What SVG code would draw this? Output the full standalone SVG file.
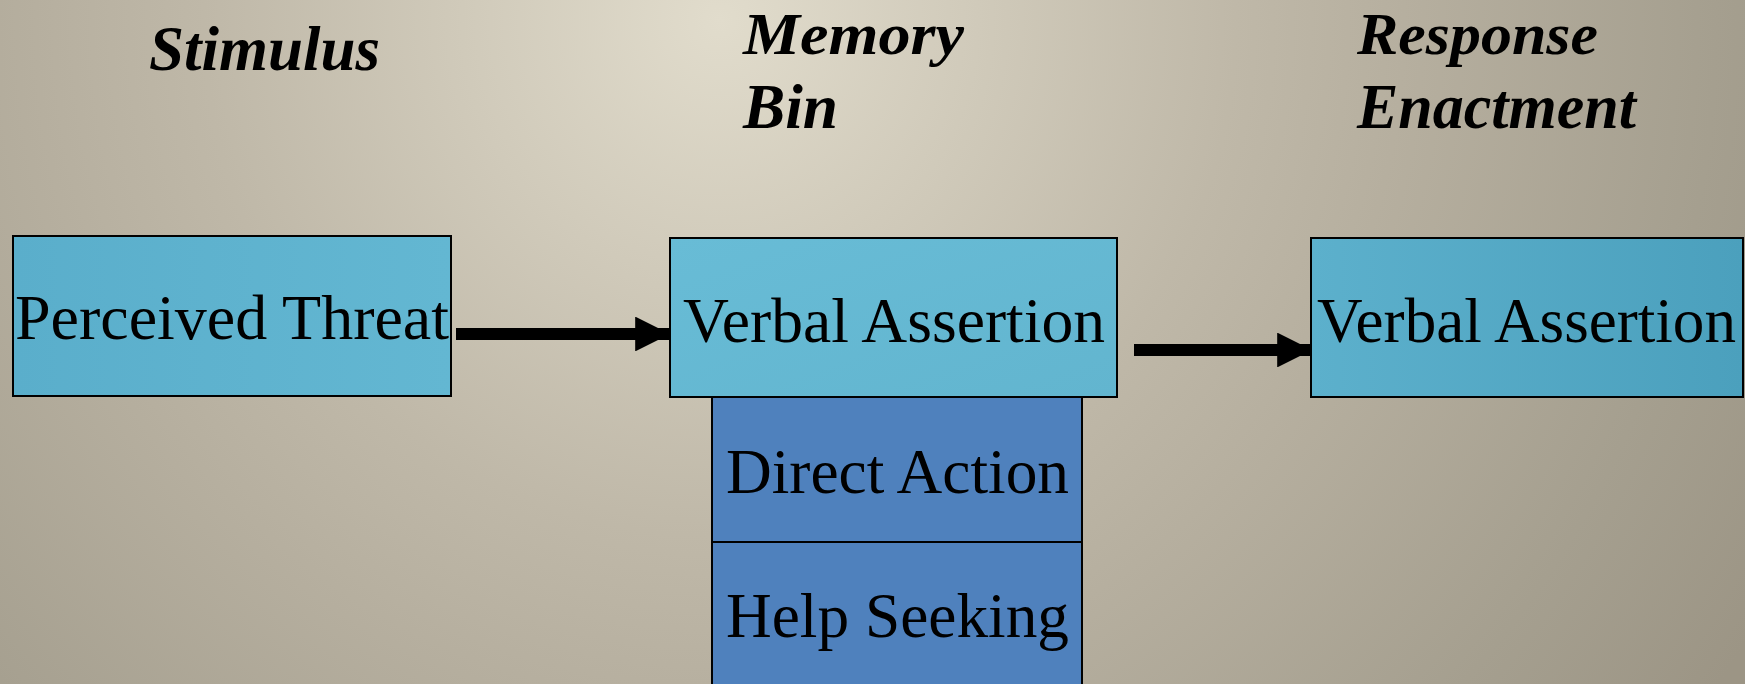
<svg xmlns="http://www.w3.org/2000/svg" width="1745" height="684" viewBox="0 0 1745 684">
<defs>
<radialGradient id="bg" gradientUnits="userSpaceOnUse" cx="720" cy="20" r="1200">
<stop offset="0" stop-color="#e1dccc"/>
<stop offset="0.43" stop-color="#bfb8a8"/>
<stop offset="0.57" stop-color="#b6af9f"/>
<stop offset="0.83" stop-color="#a59f8f"/>
<stop offset="1" stop-color="#9c9585"/>
</radialGradient>
<linearGradient id="g1" x1="0" y1="0" x2="1" y2="0">
<stop offset="0" stop-color="#5aaecb"/>
<stop offset="1" stop-color="#63b7d2"/>
</linearGradient>
<linearGradient id="g2" x1="0" y1="0" x2="1" y2="1">
<stop offset="0" stop-color="#68bcd6"/>
<stop offset="1" stop-color="#62b5cf"/>
</linearGradient>
<linearGradient id="g3" x1="0" y1="0" x2="1" y2="0">
<stop offset="0" stop-color="#5cb0cc"/>
<stop offset="1" stop-color="#4ba0bd"/>
</linearGradient>
<marker id="ah" viewBox="0 0 10 10" refX="10" refY="5" markerWidth="2.9" markerHeight="2.9" orient="auto" markerUnits="strokeWidth">
<path d="M0,0 L10,5 L0,10 Z" fill="#000"/>
</marker>
</defs>
<style>
.box{stroke:#000;stroke-width:2}
.lbl{font-family:"Liberation Serif","Times New Roman",serif;font-size:63px;fill:#000}
.hdr{font-family:"Liberation Serif","Times New Roman",serif;font-size:64px;font-weight:bold;font-style:italic;fill:#000}
.hdr2{font-size:59px}
.conn{stroke:#000;stroke-width:12;fill:none}
</style>
<rect x="0" y="0" width="1745" height="684" fill="url(#bg)"/>
<g id="headers">
<text class="hdr" x="149" y="70" textLength="231" lengthAdjust="spacingAndGlyphs">Stimulus</text>
<text class="hdr hdr2" x="743" y="54" textLength="221" lengthAdjust="spacingAndGlyphs">Memory</text>
<text class="hdr" x="743" y="128" textLength="95" lengthAdjust="spacingAndGlyphs">Bin</text>
<text class="hdr hdr2" x="1357" y="54" textLength="241" lengthAdjust="spacingAndGlyphs">Response</text>
<text class="hdr" x="1357" y="128" textLength="279" lengthAdjust="spacingAndGlyphs">Enactment</text>
</g>
<g id="node-perceived-threat">
<rect class="box" x="13" y="236" width="438" height="160" fill="url(#g1)"/>
<text class="lbl" x="15" y="339" textLength="434" lengthAdjust="spacingAndGlyphs">Perceived Threat</text>
</g>
<g id="node-direct-action">
<rect class="box" x="712" y="397" width="370" height="145" fill="#4f81bd"/>
<text class="lbl" x="726" y="493" textLength="343" lengthAdjust="spacingAndGlyphs">Direct Action</text>
</g>
<g id="node-help-seeking">
<rect class="box" x="712" y="542" width="370" height="150" fill="#4f81bd"/>
<text class="lbl" x="726" y="637" textLength="343" lengthAdjust="spacingAndGlyphs">Help Seeking</text>
</g>
<g id="node-memory-verbal-assertion">
<rect class="box" x="670" y="238" width="447" height="159" fill="url(#g2)"/>
<text class="lbl" x="683" y="342" textLength="422" lengthAdjust="spacingAndGlyphs">Verbal Assertion</text>
</g>
<g id="node-response-verbal-assertion">
<rect class="box" x="1311" y="238" width="432" height="159" fill="url(#g3)"/>
<text class="lbl" x="1317" y="342" textLength="419" lengthAdjust="spacingAndGlyphs">Verbal Assertion</text>
</g>
<g id="connectors">
<line class="conn" x1="456" y1="334" x2="670" y2="334" marker-end="url(#ah)"/>
<line class="conn" x1="1134" y1="350" x2="1312" y2="350" marker-end="url(#ah)"/>
</g>
</svg>
